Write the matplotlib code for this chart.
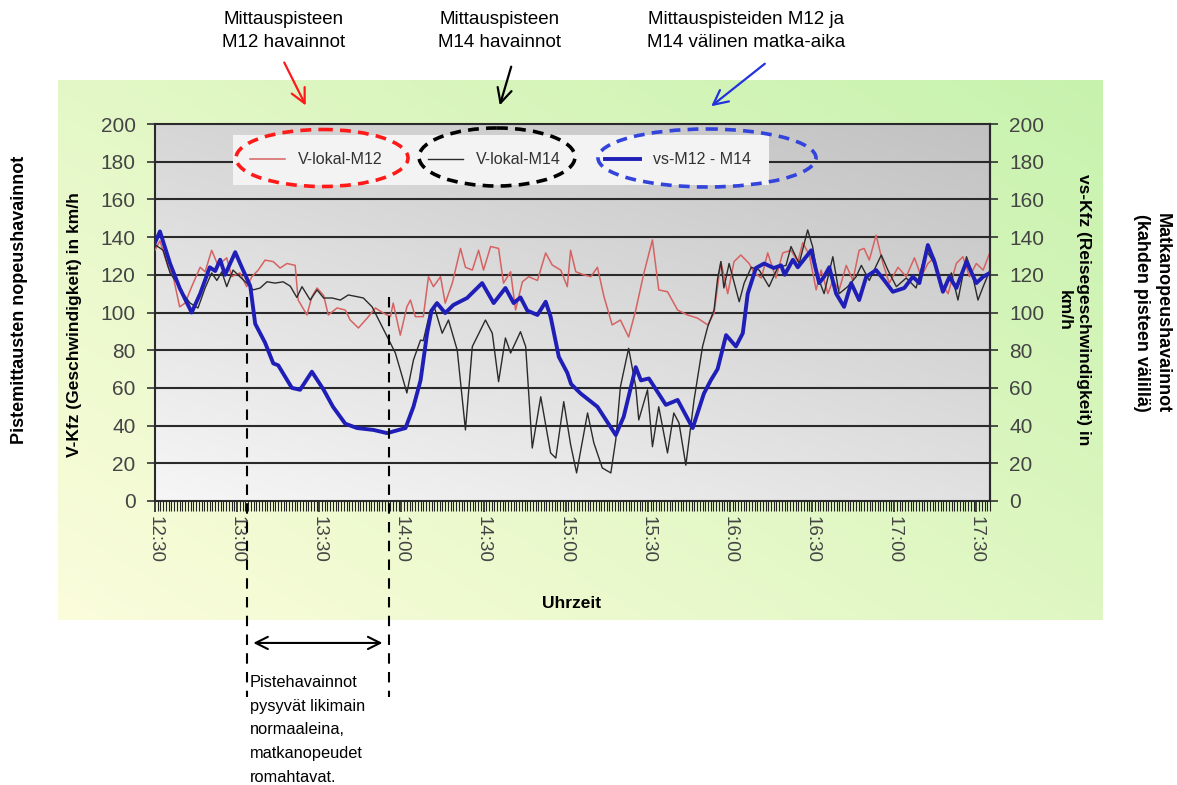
import numpy as np
import matplotlib
matplotlib.use("Agg")
import matplotlib.pyplot as plt
from matplotlib.patches import Ellipse

plt.rcParams['font.family'] = ['Liberation Sans', 'DejaVu Sans']

# ---- data: minutes after 12:30, speed in km/h ----
m12_t = [0, 1.8, 4.8, 6.5, 9, 11, 13.4, 16.5, 18.3, 20.7, 23, 26.2, 28, 31, 33.5, 35.4, 37.7,
         40.2, 43.2, 45.7, 48.2, 51.2, 52.3, 55.5, 57.3, 59.2, 61.6, 63.3, 66.5, 69.5, 71.3,
         74.3, 77.5, 80.5, 83.4, 86, 87, 89.6, 92, 93.3, 95.1, 98, 99.9, 101.7, 104.3, 106,
         108.6, 111.6, 113.4, 115.9, 118.2, 120, 122.6, 125.5, 127.3, 129.9, 131.7, 134.2,
         136.5, 139.7, 142.7, 145.1, 148.2, 150.6, 151.8, 153.7, 156.6, 159.2, 161.6, 164,
         167, 170, 173, 175.6, 178.6, 181.7, 184, 187.2, 190.9, 194.5, 198.2, 201.9, 204.2,
         206.7, 209.2, 211.5, 214, 217, 218.9, 221.5, 223.8, 226.8, 229.3, 232.3, 234.8,
         236.6, 239, 241.5, 243.3, 245.8, 247.6, 249.9, 252.5, 254.9, 257.2, 259, 260.9,
         263.4, 265.9, 268.2, 271.4, 274.4, 277.4, 279.9, 282.3, 284.7, 287.2, 289.7, 292.7,
         295.1, 297.5, 300, 302.5, 305]
m12_v = [133, 138, 124, 120, 103, 105, 113.7, 124, 121.6, 133, 125, 129, 119, 121, 113.7, 119,
         122.5, 127.8, 127, 123.6, 126, 125, 106.6, 98.7, 108.4, 113, 109, 98.7, 102.4, 101.3,
         96, 91.8, 97, 102.4, 99.7, 97.8, 105, 88, 103, 106.6, 97.8, 97.8, 119, 113.7, 119,
         105, 115.6, 134, 124, 122.5, 133, 122.5, 135, 134, 115.6, 121.6, 101.3, 116.3, 119,
         117, 131.6, 125.2, 122.5, 113.7, 133, 121.6, 120, 119, 124, 108.4, 93.4, 96, 87,
         101.3, 121, 138.5, 112, 111, 101.3, 98.7, 97, 93.4, 99.7, 127, 110, 127, 130.5, 126,
         121, 118.3, 131.6, 118.3, 131.6, 133, 127, 137, 130.5, 112, 122.5, 110, 117, 112,
         125, 117, 133, 134, 127.8, 141, 126, 115.6, 124, 119, 129, 119, 126, 129, 115.6,
         110, 126, 129.6, 119, 126, 122.5, 132]

m14_t = [0, 3, 5.5, 7.9, 10.3, 12.8, 15.7, 18.3, 20.7, 22.6, 24.4, 26.2, 28.5, 31, 33.5, 35.9,
         38.4, 40.9, 43.9, 46.8, 49.4, 51.8, 53.7, 56.7, 59.2, 61.6, 64.7, 67.7, 70.6, 73.8,
         76.1, 79.3, 82.3, 84.8, 87.8, 90.3, 92, 94.4, 97, 98, 100.6, 102, 104.9, 107.2,
         110.4, 113.4, 115.9, 120.7, 123.2, 125.5, 128, 129.9, 133.5, 135.4, 137.8, 140.9,
         144.5, 146.4, 149.3, 151.8, 154, 158, 160.3, 163.4, 166.5, 168.3, 170, 173, 175.6,
         176.7, 179.9, 181.7, 184, 187.2, 189.5, 191.4, 193.9, 196.9, 200, 201.9, 204.2,
         205.5, 206.7, 207.8, 209.7, 213.4, 215.2, 217.8, 220.7, 224.3, 227.5, 230.5, 232.3,
         235.3, 238.4, 240.2, 242.1, 244.4, 247.6, 249.9, 253, 256.1, 258, 260.9, 265.3,
         267.7, 270.8, 274.4, 278, 281.7, 284.7, 287.8, 290.9, 293.3, 296.4, 298.2, 300.6,
         302.5, 305]
m14_v = [136, 133, 121, 116, 110, 105, 102.4, 113, 121, 117, 121.6, 113.7, 122.5, 119, 115.6,
         112, 113, 116.3, 115.6, 116.3, 114, 108, 113.7, 106.6, 112, 107.7, 107.7, 106.6, 109.3,
         108.4, 107.7, 103, 94.4, 87.2, 78.5, 66, 57.3, 74.8, 85.4, 85, 101.3, 103, 89, 96, 80,
         37.7, 81.9, 96, 89, 63.3, 86.5, 78.5, 89.8, 81.9, 28.1, 55.3, 25.5, 22.8, 52.7, 30,
         14.9, 46.7, 30.8, 17.5, 14.9, 32.4, 60.6, 81, 60.6, 43, 59, 28.8, 50, 25.5, 46.7,
         41.4, 19, 53.6, 81.9, 92.5, 101.3, 118, 127, 113, 126, 105.7, 115.6, 124, 122.5,
         113.7, 124, 125, 135, 126, 143.8, 135, 119, 110, 129.6, 110, 113.7, 119, 125, 117,
         130.5, 122.5, 113.7, 118.3, 113, 133, 126, 112, 121, 106.6, 129.6, 122.5, 106.6,
         113.7, 122.5]

vs_t = [0, 1.8, 5.5, 9, 13.4, 16.5, 20, 22, 23.8, 25.6, 29.3, 31.7, 34.8, 36.6, 40.2, 43.2, 45,
        50, 53, 57.3, 61.6, 65, 69.5, 73.8, 79.8, 84.8, 91.5, 94.4, 97, 99.4, 101, 103, 106,
        109, 114, 119.5, 123.7, 128, 131, 133.5, 136, 139.7, 142.7, 144.5, 147.5, 150.6, 152,
        155.5, 161.6, 168.3, 171.2, 175.6, 177.5, 180.4, 186.6, 190.9, 196.4, 200.5, 203,
        205.5, 208.6, 212.2, 214.7, 216.5, 219.5, 222.5, 226, 228.7, 230, 233, 234.8, 239.7,
        242.6, 244.4, 246.3, 248.8, 251.7, 254.3, 257.2, 259.8, 263.4, 266.4, 269.5, 273.7,
        276.8, 279.2, 282.3, 284.7, 287.8, 290.2, 292.7, 296.4, 300, 302.5, 305]
vs_v = [137, 143, 126, 113, 100, 110, 124, 122, 128, 120, 132, 124, 114, 94, 84, 73, 72, 60, 59,
        68.6, 59, 50, 41, 38.7, 37.7, 36, 38.7, 50, 64, 89, 101, 105, 99.7, 104, 107.7, 115.6,
        105, 113, 105, 108, 101, 98.7, 105.7, 97.8, 76.5, 68, 62, 57, 50, 35, 44.7, 71, 64,
        65, 51, 53.6, 38.7, 57, 64, 70, 88, 82, 89, 110, 123.6, 126, 123.6, 125, 120, 128,
        124, 133, 115.6, 119, 124, 110, 103, 115.6, 106.6, 119, 122.5, 117, 111, 113, 119,
        115.6, 135.8, 127, 111, 119, 113, 127, 115.6, 119, 121]

tick_minutes = list(range(0, 301, 30))
tick_labels = ["12:30", "13:00", "13:30", "14:00", "14:30", "15:00", "15:30",
               "16:00", "16:30", "17:00", "17:30"]
y_ticks = list(range(0, 201, 20))
series_labels = ["V-lokal-M12", "V-lokal-M14", "vs-M12 - M14"]
window = (33.7, 85.3)   # period marked by the dashed lines

W, H = 1177, 785
fig = plt.figure(figsize=(W / 100, H / 100), dpi=100, facecolor='white')

# ---- background panel with green gradient (pixel coordinates) ----
bg = fig.add_axes([0, 0, 1, 1], zorder=-5)
bg.set_xlim(0, W); bg.set_ylim(H, 0); bg.axis('off')
nx, ny = 200, 120
xf = np.linspace(0, 1, nx)[None, :]
yf = np.linspace(0, 1, ny)[:, None]   # 0 top, 1 bottom
t = np.clip(0.55 * xf + 0.45 * (1 - yf), 0, 1)
c0 = np.array([0.985, 0.99, 0.86])
c1 = np.array([0.78, 0.95, 0.68])
img = c0[None, None, :] * (1 - t[..., None]) + c1[None, None, :] * t[..., None]
bg.imshow(img, extent=[58, 1103, 620, 80], aspect='auto', interpolation='bilinear')

# ---- main plot area ----
L, R, T, B = 155, 990, 124, 501
ax = fig.add_axes([L / W, 1 - B / H, (R - L) / W, (B - T) / H], zorder=1)
xmax = 305
gx = np.linspace(0, 1, 200)[None, :]
gy = np.linspace(0, 1, 120)[:, None]  # 0 bottom, 1 top with origin lower
g = np.clip(0.4 * gx + 0.6 * gy, 0, 1)
light, dark = 0.965, 0.76
gimg = light * (1 - g) + dark * g
ax.imshow(np.dstack([gimg] * 3), extent=[0, xmax, 0, 200], origin='lower',
          aspect='auto', zorder=0, interpolation='bilinear')

ax.set_xlim(0, xmax)
ax.set_ylim(0, 200)
for yv in y_ticks[1:]:
    ax.axhline(yv, color='#2a2a2a', lw=1.5, zorder=1, clip_on=False)

l1, = ax.plot(m12_t, m12_v, color='#d66262', lw=1.1, zorder=3)
l2, = ax.plot(m14_t, m14_v, color='#2b2b2b', lw=1.0, zorder=3)
l3, = ax.plot(vs_t, vs_v, color='#1f1fb8', lw=2.8, zorder=4)

ax.spines['top'].set_visible(False)
for s in ['left', 'right', 'bottom']:
    ax.spines[s].set_color('#2a2a2a')
    ax.spines[s].set_linewidth(1.5)

ax.set_xticks(tick_minutes)
ax.set_xticklabels(tick_labels, rotation=-90, fontsize=13.5, color='#444444')
ax.set_xticks(np.arange(0, xmax + 1, 1), minor=True)
ax.tick_params(axis='x', which='major', length=8, width=1.1, color='#111111', pad=3)
ax.tick_params(axis='x', which='minor', length=7, width=0.8, color='#222222')
ax.set_yticks(y_ticks)
ax.set_yticklabels([str(v) for v in y_ticks], fontsize=15, color='#444444')
ax.tick_params(axis='y', length=6, width=1.2, color='#333333', pad=8)

ax2 = ax.twinx()
ax2.set_ylim(0, 200)
ax2.set_yticks(y_ticks)
ax2.set_yticklabels([str(v) for v in y_ticks], fontsize=15, color='#444444')
ax2.tick_params(axis='y', length=6, width=1.2, color='#333333', pad=8)
for s in ['top', 'left', 'bottom']:
    ax2.spines[s].set_visible(False)
ax2.spines['right'].set_color('#2a2a2a')
ax2.spines['right'].set_linewidth(1.5)

leg = ax2.legend([l1, l2, l3], series_labels, ncol=3, loc='center',
                 bbox_to_anchor=(0.414, 0.905), fontsize=11.5, frameon=True,
                 facecolor='#f3f3f3', edgecolor='none', framealpha=1.0, fancybox=False,
                 handlelength=2.2, handletextpad=0.8, columnspacing=2.8, borderpad=0.5)
leg.get_frame().set_boxstyle('square', pad=0.6)
for txt in leg.get_texts():
    txt.set_color('#333333')

# dashed markers of the period and its span arrow
for tm in window:
    ax.plot([tm, tm], [108, -104], color='black', lw=1.5, ls=(0, (5, 4)),
            clip_on=False, zorder=6)
ax.annotate('', xy=(window[1] - 1.2, -75.3), xytext=(window[0] + 1.2, -75.3),
            arrowprops=dict(arrowstyle='<->', lw=1.5, color='black', mutation_scale=22),
            annotation_clip=False, zorder=6)

# ---- foreground overlay in pixel coordinates ----
ov = fig.add_axes([0, 0, 1, 1], zorder=10)
ov.set_xlim(0, W); ov.set_ylim(H, 0); ov.axis('off')
ov.patch.set_visible(False)

ov.text(20, 300, "Pistemittausten nopeushavainnot", rotation=90, ha='center',
        va='center', fontsize=13, fontweight='bold')
ov.text(75, 325, "V-Kfz (Geschwindigkeit) in km/h", rotation=90, ha='center',
        va='center', fontsize=12.5, fontweight='bold')
ov.text(1074, 310, "vs-Kfz (Reisegeschwindigkeit) in\nkm/h", rotation=270,
        ha='center', va='center', fontsize=12.5, fontweight='bold', linespacing=1.3)
ov.text(1152, 313, "Matkanopeushavainnot\n(kahden pisteen välillä)", rotation=270,
        ha='center', va='center', fontsize=13, fontweight='bold', linespacing=1.25)
ov.text(572, 603, "Uhrzeit", ha='center', va='center', fontsize=12.5, fontweight='bold')

ov.text(284, 31, "Mittauspisteen\nM12 havainnot", ha='center', va='center',
        fontsize=13.5, linespacing=1.45)
ov.text(500, 31, "Mittauspisteen\nM14 havainnot", ha='center', va='center',
        fontsize=13.5, linespacing=1.45)
ov.text(746, 31, "Mittauspisteiden M12 ja\nM14 välinen matka-aika", ha='center',
        va='center', fontsize=13.5, linespacing=1.45)

for (x0, y0, x1, y1, col) in [(283, 60, 307, 108, '#ff1a1a'),
                              (512, 64, 499, 108, 'black'),
                              (767, 62, 709, 108, '#2233dd')]:
    ov.annotate('', xy=(x1, y1), xytext=(x0, y0),
                arrowprops=dict(arrowstyle='->', color=col, lw=1.6, mutation_scale=26))

for (cx, cy, w, h, col) in [(322, 158, 172, 57, '#ff1a1a'),
                            (497, 157, 156, 58, 'black'),
                            (707, 158, 218, 58, '#3344dd')]:
    ov.add_patch(Ellipse((cx, cy), w, h, fill=False, edgecolor=col, lw=2.6,
                         ls=(0, (3, 2))))

ov.text(250, 675, "Pistehavainnot\npysyvät likimain\nnormaaleina,\nmatkanopeudet\nromahtavat.",
        ha='left', va='top', fontsize=11.8, linespacing=1.72)

fig.savefig('out.png', dpi=100, facecolor='white')
